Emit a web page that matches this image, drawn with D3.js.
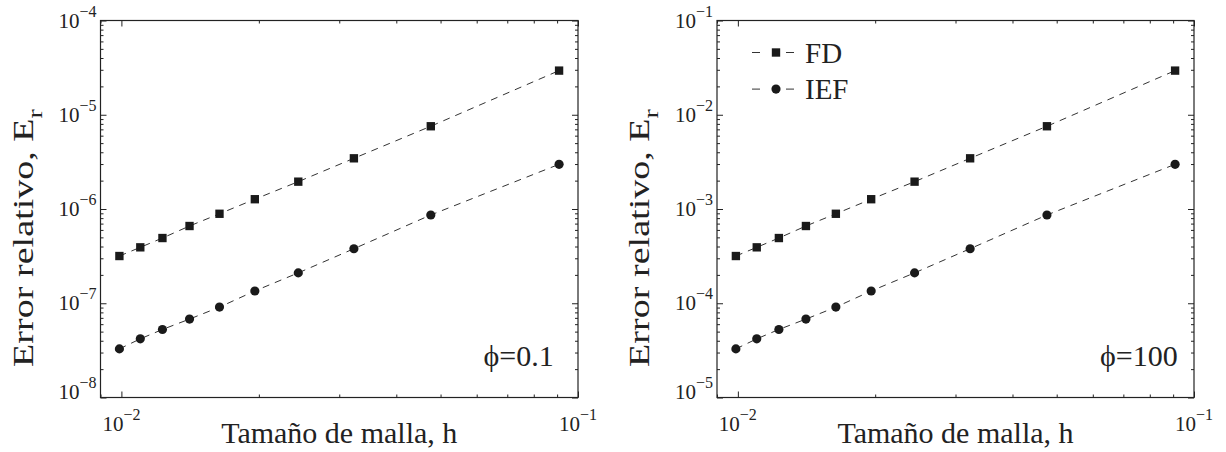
<!DOCTYPE html>
<html>
<head>
<meta charset="utf-8">
<script src="https://cdn.jsdelivr.net/npm/d3@7"></script>
<style>
body { margin: 0; background: #fff; }
text { font-family: "Liberation Serif", "Times New Roman", serif; fill: #222; }
</style>
</head>
<body>
<div id="chart"></div>
<script>
// mesh sizes h (x values, shared by both panels)
var meshSize = [0.0099, 0.0110, 0.0123, 0.0141, 0.0164, 0.0196, 0.0244, 0.0323, 0.0476, 0.0909];

// relative error, phi = 0.1
var fdSmall  = [3.17e-7, 3.92e-7, 4.92e-7, 6.6e-7, 8.9e-7, 1.27e-6, 1.95e-6, 3.45e-6, 7.55e-6, 2.94e-5];
var iefSmall = [3.28e-8, 4.19e-8, 5.27e-8, 6.79e-8, 9.1e-8, 1.35e-7, 2.1e-7, 3.79e-7, 8.64e-7, 2.98e-6];

// relative error, phi = 100
var fdLarge  = [3.17e-4, 3.92e-4, 4.92e-4, 6.6e-4, 8.9e-4, 1.27e-3, 1.95e-3, 3.45e-3, 7.55e-3, 2.94e-2];
var iefLarge = [3.28e-5, 4.19e-5, 5.27e-5, 6.79e-5, 9.1e-5, 1.35e-4, 2.1e-4, 3.79e-4, 8.64e-4, 2.98e-3];

var xDomain = [0.009, 0.1];
var xMajor = [0.01, 0.1];
var xMajorExp = ["\u22122", "\u22121"];
var yMajorSmall = [1e-8, 1e-7, 1e-6, 1e-5, 1e-4];
var yExpSmall = ["\u22128", "\u22127", "\u22126", "\u22125", "\u22124"];
var yMajorLarge = [1e-5, 1e-4, 1e-3, 1e-2, 1e-1];
var yExpLarge = ["\u22125", "\u22124", "\u22123", "\u22122", "\u22121"];
var seriesNames = ["FD", "IEF"];
var phiLabels = ["\u03D5=0.1", "\u03D5=100"];
var xTitle = "Tama\u00F1o de malla, h";

var W = 1226, H = 452;
var svg = d3.select("#chart").append("svg")
    .attr("width", W)
    .attr("height", H);
svg.append("rect").attr("width", W).attr("height", H).attr("fill", "#fff");

// minor ticks 2..9 inside each decade of a domain
function minorTicks(domain) {
    var out = [];
    var lo = Math.floor(Math.log10(domain[0])), hi = Math.ceil(Math.log10(domain[1]));
    for (var e = lo; e < hi; e++) {
        for (var m = 2; m <= 9; m++) {
            var v = m * Math.pow(10, e);
            if (v > domain[0] && v < domain[1]) out.push(v);
        }
    }
    return out;
}

function drawPanel(p) {
    var g = svg.append("g");
    var x = d3.scaleLog().domain(xDomain).range([p.left, p.right]);
    var y = d3.scaleLog().domain(p.yDomain).range([p.bottom, p.top]);

    // ticks on all four sides, pointing inward
    var sides = [
        {axis: d3.axisBottom(x), t: "translate(0," + p.bottom + ")", major: xMajor, minor: minorTicks(xDomain)},
        {axis: d3.axisTop(x), t: "translate(0," + p.top + ")", major: xMajor, minor: minorTicks(xDomain)},
        {axis: d3.axisLeft(y), t: "translate(" + p.left + ",0)", major: p.yMajor, minor: minorTicks(p.yDomain)},
        {axis: d3.axisRight(y), t: "translate(" + p.right + ",0)", major: p.yMajor, minor: minorTicks(p.yDomain)}
    ];
    sides.forEach(function (s) {
        [[s.major, -6], [s.minor, -3]].forEach(function (k) {
            var a = g.append("g").attr("transform", s.t)
                .call(s.axis.tickValues(k[0]).tickSize(k[1]).tickFormat(""));
            a.select(".domain").remove();
            a.selectAll("line").attr("stroke", "#222").attr("stroke-width", 1);
        });
    });

    g.append("rect")
        .attr("x", p.left).attr("y", p.top)
        .attr("width", p.right - p.left).attr("height", p.bottom - p.top)
        .attr("fill", "none").attr("stroke", "#222").attr("stroke-width", 1.2);

    // x tick labels
    xMajor.forEach(function (v, i) {
        var t = g.append("text")
            .attr("x", x(v)).attr("y", p.bottom + 33)
            .attr("text-anchor", "middle")
            .style("font-size", "21px");
        t.append("tspan").text("10");
        t.append("tspan").attr("dy", -11).style("font-size", "16px").text(xMajorExp[i]);
    });

    // y tick labels
    p.yMajor.forEach(function (v, i) {
        var yy = y(v) + (i === 0 ? 1 : 7);
        var t = g.append("text")
            .attr("x", p.left - 4).attr("y", yy)
            .attr("text-anchor", "end")
            .style("font-size", "21px");
        t.append("tspan").text("10");
        t.append("tspan").attr("dy", -11).style("font-size", "16px").text(p.yExp[i]);
    });

    // axis titles
    g.append("text")
        .attr("x", (p.left + p.right) / 2).attr("y", 443)
        .attr("text-anchor", "middle")
        .style("font-size", "30px")
        .text(xTitle);

    var yt = g.append("text")
        .attr("transform", "translate(" + (p.left - 68) + ",238) rotate(-90) scale(1.27,1)")
        .attr("text-anchor", "middle")
        .style("font-size", "30px");
    yt.append("tspan").text("Error relativo, E");
    yt.append("tspan").attr("dy", 9).style("font-size", "22px").text("r");

    // series
    var line = d3.line()
        .x(function (d) { return x(d[0]); })
        .y(function (d) { return y(d[1]); });

    [p.fd, p.ief].forEach(function (vals, si) {
        var pts = d3.zip(meshSize, vals);
        g.append("path")
            .attr("d", line(pts))
            .attr("fill", "none")
            .attr("stroke", "#333")
            .attr("stroke-width", 1)
            .attr("stroke-dasharray", "7,6");
        var sym = d3.symbol().type(si === 0 ? d3.symbolSquare : d3.symbolCircle).size(si === 0 ? 70 : 66);
        g.selectAll(null).data(pts).enter().append("path")
            .attr("d", sym)
            .attr("transform", function (d) { return "translate(" + x(d[0]) + "," + y(d[1]) + ")"; })
            .attr("fill", "#1a1a1a");
    });

    // phi annotation
    g.append("text")
        .attr("x", p.left + 383).attr("y", 366)
        .style("font-size", "30px")
        .text(p.phi);

    // legend
    if (p.legend) {
        seriesNames.forEach(function (name, si) {
            var ly = p.top + 32 + si * 36.6;
            var lx = p.left + 35;
            g.append("line")
                .attr("x1", lx).attr("x2", lx + 42)
                .attr("y1", ly).attr("y2", ly)
                .attr("stroke", "#333").attr("stroke-width", 1)
                .attr("stroke-dasharray", "8,12,8,6,8");
            var sym = d3.symbol().type(si === 0 ? d3.symbolSquare : d3.symbolCircle).size(si === 0 ? 70 : 66);
            g.append("path")
                .attr("d", sym)
                .attr("transform", "translate(" + (lx + 24) + "," + ly + ")")
                .attr("fill", "#1a1a1a");
            g.append("text")
                .attr("x", lx + 53).attr("y", ly + 10)
                .style("font-size", "29px")
                .text(name);
        });
    }
}

drawPanel({left: 100.5, right: 578, top: 20.5, bottom: 397.5,
           yDomain: [1e-8, 1e-4], yMajor: yMajorSmall, yExp: yExpSmall,
           fd: fdSmall, ief: iefSmall, phi: phiLabels[0], legend: false});
drawPanel({left: 717, right: 1194, top: 20.5, bottom: 397.5,
           yDomain: [1e-5, 1e-1], yMajor: yMajorLarge, yExp: yExpLarge,
           fd: fdLarge, ief: iefLarge, phi: phiLabels[1], legend: true});
</script>
</body>
</html>
